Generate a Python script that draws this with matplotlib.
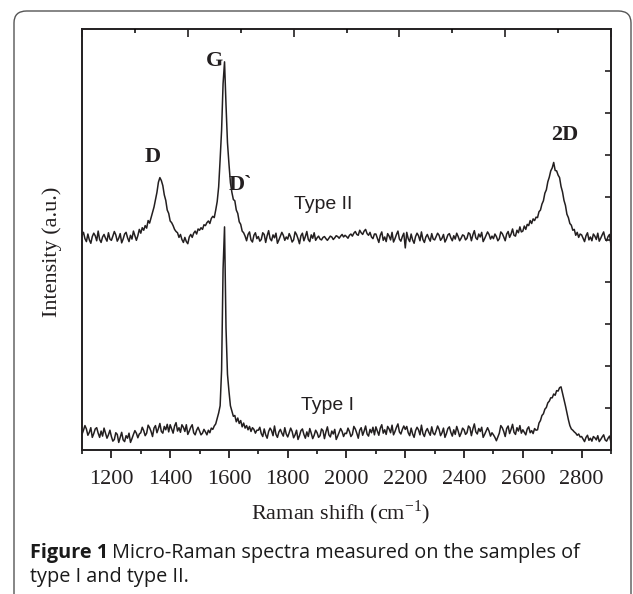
import numpy as np
import matplotlib
matplotlib.use("Agg")
import matplotlib.pyplot as plt
from matplotlib.patches import FancyBboxPatch
from matplotlib.ticker import MultipleLocator

plt.rcParams['mathtext.fontset'] = 'custom'
plt.rcParams['mathtext.rm'] = 'Liberation Serif'

# Raman shift grid (cm-1), one sample every 5 cm-1
shift = np.arange(1100, 2901, 5)

# Type II spectrum (upper trace), rows of 100 cm-1
type2 = [
    5.10, 5.17, 5.02, 4.95, 5.13, 4.99, 4.91, 5.07, 5.15, 5.09, 4.97, 5.20, 5.00, 4.93, 5.06, 5.12, 5.03, 4.96, 5.16, 5.01,
    4.98, 5.08, 5.19, 5.11, 4.96, 5.03, 5.14, 4.92, 5.01, 5.13, 5.17, 5.04, 4.95, 5.10, 5.01, 5.20, 5.09, 4.98, 5.09, 5.24,
    5.15, 5.28, 5.22, 5.33, 5.27, 5.45, 5.39, 5.52, 5.64, 5.77, 5.95, 6.12, 6.36, 6.47, 6.40, 6.28, 6.06, 5.93, 5.70, 5.62,
    5.44, 5.40, 5.33, 5.24, 5.19, 5.16, 5.05, 5.12, 5.00, 4.93, 5.05, 4.95, 4.90, 5.06, 5.12, 5.05, 5.15, 5.20, 5.13, 5.25,
    5.22, 5.28, 5.24, 5.35, 5.33, 5.40, 5.44, 5.38, 5.50, 5.55, 5.52, 5.70, 5.90, 6.25, 6.90, 7.60, 8.70, 9.22, 8.20, 7.30,
    6.80, 6.35, 6.12, 5.95, 5.92, 5.70, 5.62, 5.42, 5.36, 5.20, 5.16, 5.08, 4.97, 5.12, 5.18, 4.99, 4.94, 5.10, 5.16, 5.02,
    5.07, 4.96, 5.00, 5.16, 5.12, 4.93, 5.09, 5.21, 5.02, 4.97, 5.11, 5.04, 5.15, 4.91, 4.99, 5.08, 5.17, 5.10, 4.98, 5.06,
    5.01, 5.14, 5.06, 4.94, 4.99, 5.18, 5.12, 5.02, 4.90, 5.09, 5.15, 4.97, 5.07, 5.19, 5.00, 4.95, 5.11, 5.03, 5.16, 4.98,
    5.04, 5.08, 5.01, 4.99, 5.05, 5.07, 5.02, 4.98, 5.03, 5.08, 5.06, 5.00, 5.04, 5.09, 5.07, 5.03, 5.08, 5.12, 5.06, 5.10,
    5.07, 5.03, 5.10, 5.13, 5.08, 5.15, 5.19, 5.12, 5.10, 5.22, 5.16, 5.12, 5.20, 5.24, 5.14, 5.10, 5.17, 5.06, 5.02, 5.13,
    5.13, 5.03, 4.93, 5.10, 5.18, 4.98, 5.06, 4.95, 5.14, 5.08, 4.99, 5.17, 4.94, 5.02, 5.12, 5.20, 5.01, 4.96, 5.07, 5.15,
    4.80, 5.17, 5.02, 4.95, 5.13, 4.99, 4.91, 5.07, 5.15, 5.09, 4.97, 5.18, 5.00, 4.93, 5.06, 5.12, 5.03, 4.96, 5.14, 5.01,
    4.99, 5.07, 5.15, 5.10, 4.98, 5.03, 5.12, 4.94, 5.01, 5.11, 5.14, 5.04, 4.97, 5.09, 5.01, 5.15, 5.07, 4.97, 5.03, 5.11,
    5.09, 4.99, 5.03, 5.16, 5.13, 4.97, 5.11, 5.21, 5.04, 5.00, 5.13, 5.06, 5.17, 4.95, 5.02, 5.10, 5.18, 5.12, 5.01, 5.08,
    5.02, 5.13, 5.07, 4.97, 5.02, 5.18, 5.14, 5.06, 4.97, 5.13, 5.19, 5.05, 5.13, 5.25, 5.10, 5.08, 5.22, 5.16, 5.30, 5.18,
    5.20, 5.32, 5.24, 5.36, 5.33, 5.45, 5.38, 5.49, 5.45, 5.53, 5.52, 5.66, 5.70, 5.84, 5.92, 6.10, 6.18, 6.37, 6.48, 6.63,
    6.70, 6.83, 6.64, 6.63, 6.53, 6.47, 6.26, 6.13, 5.93, 5.81, 5.60, 5.52, 5.38, 5.34, 5.22, 5.24, 5.10, 5.17, 5.05, 5.13,
    5.11, 5.03, 4.95, 5.09, 5.16, 4.99, 5.06, 4.97, 5.13, 5.08, 5.00, 5.15, 4.96, 5.03, 5.11, 5.18, 5.02, 4.97, 5.07, 5.12,
    4.86,
]

# Type I spectrum (lower trace)
type1 = [
    0.37, 0.47, 0.58, 0.50, 0.35, 0.42, 0.53, 0.30, 0.39, 0.50, 0.53, 0.40, 0.30, 0.45, 0.33, 0.52, 0.40, 0.28, 0.36, 0.47,
    0.32, 0.21, 0.25, 0.41, 0.37, 0.18, 0.30, 0.42, 0.24, 0.20, 0.34, 0.28, 0.40, 0.18, 0.27, 0.37, 0.46, 0.40, 0.29, 0.38,
    0.41, 0.54, 0.46, 0.34, 0.40, 0.59, 0.53, 0.44, 0.32, 0.52, 0.58, 0.41, 0.51, 0.63, 0.44, 0.40, 0.56, 0.48, 0.61, 0.43,
    0.60, 0.50, 0.40, 0.57, 0.65, 0.45, 0.53, 0.42, 0.60, 0.54, 0.44, 0.60, 0.37, 0.45, 0.54, 0.60, 0.41, 0.36, 0.47, 0.54,
    0.45, 0.36, 0.40, 0.49, 0.43, 0.36, 0.47, 0.41, 0.52, 0.49, 0.57, 0.62, 0.75, 0.88, 1.05, 1.90, 4.30, 5.30, 2.90, 1.80,
    1.40, 1.05, 0.92, 0.80, 0.82, 0.67, 0.76, 0.63, 0.70, 0.55, 0.64, 0.52, 0.58, 0.48, 0.56, 0.44, 0.53, 0.49, 0.40, 0.47,
    0.47, 0.54, 0.39, 0.32, 0.50, 0.36, 0.28, 0.44, 0.52, 0.46, 0.34, 0.57, 0.37, 0.30, 0.43, 0.49, 0.40, 0.33, 0.53, 0.38,
    0.31, 0.41, 0.52, 0.44, 0.29, 0.36, 0.47, 0.25, 0.34, 0.46, 0.50, 0.37, 0.28, 0.43, 0.32, 0.51, 0.40, 0.27, 0.35, 0.47,
    0.41, 0.30, 0.34, 0.50, 0.46, 0.27, 0.43, 0.55, 0.36, 0.31, 0.45, 0.38, 0.49, 0.25, 0.33, 0.42, 0.51, 0.44, 0.32, 0.40,
    0.39, 0.52, 0.44, 0.32, 0.37, 0.56, 0.50, 0.40, 0.28, 0.47, 0.53, 0.35, 0.45, 0.57, 0.38, 0.33, 0.49, 0.41, 0.54, 0.36,
    0.55, 0.45, 0.35, 0.52, 0.60, 0.40, 0.48, 0.37, 0.56, 0.50, 0.41, 0.59, 0.36, 0.44, 0.54, 0.62, 0.43, 0.38, 0.49, 0.57,
    0.49, 0.56, 0.41, 0.34, 0.52, 0.38, 0.30, 0.46, 0.54, 0.48, 0.36, 0.59, 0.39, 0.32, 0.45, 0.51, 0.42, 0.35, 0.55, 0.40,
    0.36, 0.46, 0.57, 0.49, 0.34, 0.41, 0.52, 0.30, 0.39, 0.51, 0.55, 0.42, 0.33, 0.48, 0.37, 0.56, 0.45, 0.32, 0.40, 0.52,
    0.48, 0.37, 0.41, 0.57, 0.53, 0.34, 0.50, 0.62, 0.43, 0.38, 0.51, 0.44, 0.54, 0.30, 0.37, 0.45, 0.53, 0.45, 0.33, 0.41,
    0.36, 0.30, 0.22, 0.31, 0.40, 0.58, 0.53, 0.44, 0.32, 0.51, 0.57, 0.39, 0.49, 0.61, 0.42, 0.37, 0.53, 0.45, 0.58, 0.40,
    0.48, 0.42, 0.36, 0.50, 0.55, 0.41, 0.46, 0.39, 0.51, 0.47, 0.48, 0.64, 0.70, 0.82, 0.86, 0.97, 1.01, 1.12, 1.16, 1.24,
    1.24, 1.33, 1.30, 1.41, 1.40, 1.48, 1.50, 1.35, 1.20, 1.05, 0.88, 0.72, 0.58, 0.50, 0.47, 0.43, 0.40, 0.35, 0.38, 0.31,
    0.32, 0.26, 0.20, 0.30, 0.35, 0.23, 0.28, 0.21, 0.32, 0.29, 0.24, 0.34, 0.20, 0.25, 0.31, 0.36, 0.24, 0.21, 0.28, 0.33,
    0.18,
]

assert len(type1) == len(shift) and len(type2) == len(shift), (len(type1), len(type2))

ink = '#231f20'
W, H = 633, 594

fig = plt.figure(figsize=(W / 100, H / 100), dpi=100)

# rounded frame around the whole figure
frame = FancyBboxPatch((14 / W, -12 / H), 617 / W, (H - 11 + 12) / H,
                       boxstyle="round,pad=0,rounding_size=0.02",
                       transform=fig.transFigure, facecolor='none',
                       edgecolor='#555555', linewidth=1.0)
fig.add_artist(frame)

ax = fig.add_axes([82 / W, 1 - 450 / H, 529 / W, 421 / H])
ax.plot(shift, type2, color=ink, linewidth=1.1)
ax.plot(shift, type1, color=ink, linewidth=1.1)

ax.set_xlim(1100, 2900)
ax.set_ylim(0, 10)
for s in ax.spines.values():
    s.set_linewidth(1.4)
    s.set_color(ink)

ax.xaxis.set_major_locator(MultipleLocator(200))
ax.xaxis.set_minor_locator(MultipleLocator(100))
ax.set_xticks([1200, 1400, 1600, 1800, 2000, 2200, 2400, 2600, 2800])
ax.tick_params(axis='x', which='major', direction='out', length=5.5, width=1.3,
               pad=9, labelsize=16, colors=ink)
ax.tick_params(axis='x', which='minor', direction='out', length=3, width=1.1)
for lab in ax.get_xticklabels():
    lab.set_family('Liberation Serif')

# right-hand ticks, no labels
ax.set_yticks(range(1, 10))
ax.tick_params(axis='y', left=False, labelleft=False, right=True,
               direction='in', length=4, width=1.2, colors=ink)

# top ticks follow their own 10-division scale
top = ax.twiny()
top.set_xlim(0, 10)
top.xaxis.set_major_locator(MultipleLocator(2))
top.xaxis.set_minor_locator(MultipleLocator(1))
top.tick_params(axis='x', which='major', direction='in', length=5.5, width=1.2,
                labeltop=False, colors=ink)
top.tick_params(axis='x', which='minor', direction='in', length=3, width=1.1)
for s in top.spines.values():
    s.set_visible(False)

# peak labels
bold = dict(family='Liberation Serif', fontsize=16, fontweight='bold',
            color=ink, ha='center', va='center')
ax.text(1550, 9.25, 'G', **bold)
ax.text(1339, 6.96, 'D', **bold)
ax.text(1639, 6.29, 'D`', **bold)
ax.text(2744, 7.48, '2D', **bold)

plain = dict(family='Liberation Sans', fontsize=14, color=ink,
             ha='center', va='center')
ax.text(1921, 5.83, 'Type II', **plain)
ax.text(1934, 1.05, 'Type I', **plain)

fig.text(52 / W, 1 - 252 / H, 'Intensity (a.u.)', family='Liberation Serif',
         fontsize=16, rotation=90, ha='center', va='center', color=ink)
fig.text(341 / W, 1 - 513 / H, 'Raman shifh (cm$^{-1}$)',
         family='Liberation Serif', fontsize=16, ha='center', va='center',
         color=ink)

# caption, bold lead-in followed by plain text
cap_size = 14.3
cap1 = fig.text(30 / W, 1 - 553 / H, 'Figure 1', family='Open Sans',
                fontsize=cap_size, fontweight='bold', va='center', color='#1a1a1a')
fig.canvas.draw()
bb = cap1.get_window_extent()
fig.text((bb.x1 + 4) / W, 1 - 553 / H,
         'Micro-Raman spectra measured on the samples of',
         family='Open Sans', fontsize=cap_size, va='center', color='#1a1a1a')
fig.text(30 / W, 1 - 577 / H, 'type I and type II.', family='Open Sans',
         fontsize=cap_size, va='center', color='#1a1a1a')

fig.savefig('out.png', dpi=100)
